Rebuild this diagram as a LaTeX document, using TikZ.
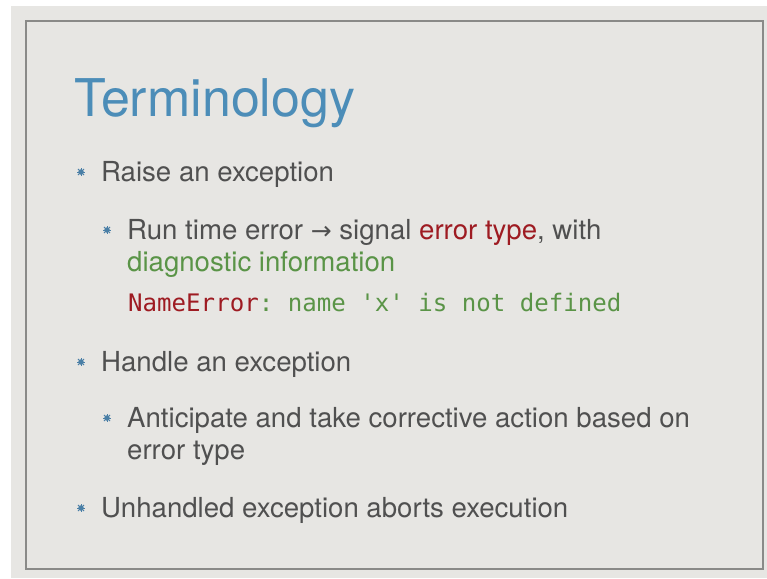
\documentclass[tikz,border=0pt]{standalone}
\usepackage{fontspec}
\setmainfont{TeX Gyre Heros}
\setmonofont{DejaVu Sans Mono}
\newfontfamily\symfont{DejaVu Sans}
\definecolor{slidebg}{HTML}{E7E6E3}
\definecolor{framecol}{HTML}{8A8A88}
\definecolor{titleblue}{HTML}{4C8DB8}
\definecolor{bodygrey}{HTML}{505050}
\definecolor{errred}{HTML}{9E1B22}
\definecolor{diaggreen}{HTML}{5A9447}
\definecolor{bulletblue}{HTML}{4A7FA6}
\tikzset{
  body/.style={anchor=base west, inner sep=0pt, text=bodygrey, font=\fontsize{27.6}{32}\selectfont},
  code/.style={anchor=base west, inner sep=0pt, font=\fontsize{24.1}{28}\ttfamily},
  titletext/.style={anchor=base west, inner sep=0pt, text=titleblue, font=\fontsize{52}{60}\selectfont},
  bulletpt/.style={circle, fill=bulletblue, inner sep=0pt, minimum size=5.5pt},
}
\newcommand{\starbullet}[2]{%
  \node[bulletpt] (#1) at (#2) {};
  \foreach \a in {0,45,...,315} {\draw[bulletblue, line width=1pt] (#1.center) -- ++(\a:4.3pt);}
}
\begin{document}
\begin{tikzpicture}[x=1pt,y=-1pt]
\useasboundingbox (0,0) rectangle (767,578);
\fill[white] (0,0) rectangle (767,578);
\fill[slidebg] (11,6) rectangle (767,578);
\draw[framecol, line width=1.6pt] (26,21) rectangle (763,569);

\node[titletext] (title) at (74,116) {Terminology};

\starbullet{b1}{81,172}
\node[body] (t1) at (101,181) {Raise an exception};

\starbullet{b2}{107,230}
\node[body] (t2) at (127,239) {Run time error {\symfont\fontsize{25}{28}\selectfont →} signal \textcolor{errred}{error type}, with};
\node[body, text=diaggreen] (t2b) at (127,271) {diagnostic information};
\node[code] (t3) at (128,311) {\textcolor{errred}{NameError}\textcolor{diaggreen}{: name \textquotesingle x\textquotesingle{} is not defined}};

\starbullet{b3}{81,362}
\node[body] (t4) at (101,371) {Handle an exception};

\starbullet{b4}{107,418}
\node[body] (t5) at (127,427) {Anticipate and take corrective action based on};
\node[body] (t5b) at (127,459) {error type};

\starbullet{b5}{81,508}
\node[body] (t6) at (101,517) {Unhandled exception aborts execution};
\end{tikzpicture}
\end{document}
